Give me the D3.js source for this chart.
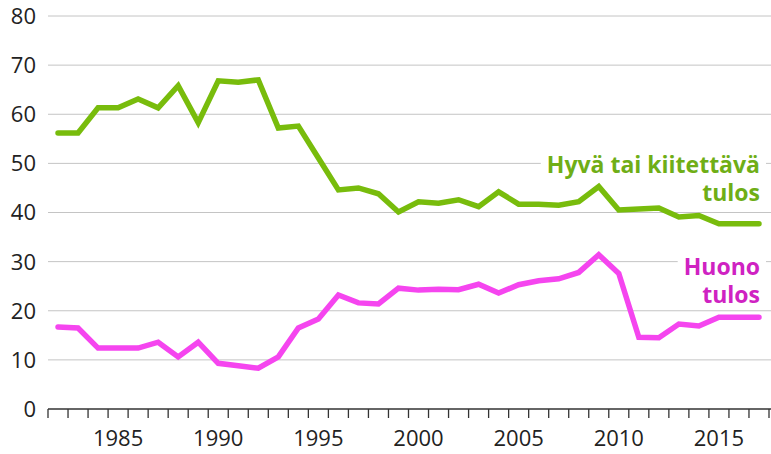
<!DOCTYPE html>
<html>
<head>
<meta charset="utf-8">
<script src="https://cdn.jsdelivr.net/npm/d3@7"></script>
<style>
  body { margin: 0; background: #fff; }
  svg { display: block; }
</style>
</head>
<body>
<svg width="771" height="454"></svg>
<script>
var years = d3.range(1982, 2018);

var hyva = [56.2, 56.2, 61.3, 61.3, 63.1, 61.3, 65.8, 58.3, 66.8, 66.5,
            67.0, 57.2, 57.6, 51.1, 44.6, 45.0, 43.8, 40.1, 42.2, 41.9,
            42.6, 41.2, 44.2, 41.7, 41.7, 41.5, 42.2, 45.3, 40.5, 40.7,
            40.9, 39.1, 39.4, 37.7, 37.7, 37.7];

var huono = [16.7, 16.5, 12.4, 12.4, 12.4, 13.6, 10.6, 13.6, 9.3, 8.8,
             8.3, 10.6, 16.5, 18.3, 23.2, 21.6, 21.4, 24.6, 24.2, 24.4,
             24.3, 25.4, 23.6, 25.3, 26.1, 26.5, 27.8, 31.4, 27.6, 14.6,
             14.5, 17.3, 16.9, 18.7, 18.7, 18.7];

var yTicks = [0, 10, 20, 30, 40, 50, 60, 70, 80];
var xLabels = [1985, 1990, 1995, 2000, 2005, 2010, 2015];

var svg = d3.select('svg'),
    w = +svg.attr('width'),
    mLeft = 48, mRight = 769,
    mTop = 16, mBottom = 409;

var x = d3.scaleBand()
      .domain(years)
      .range([mLeft, mRight]),
    y = d3.scaleLinear()
      .domain([0, 80])
      .range([mBottom, mTop]);

// grid
svg.append('g')
  .selectAll('line')
  .data(yTicks.slice(1))
  .enter()
  .append('line')
  .attr('x1', mLeft)
  .attr('x2', w)
  .attr('y1', function(d){ return y(d); })
  .attr('y2', function(d){ return y(d); })
  .attr('stroke', '#c4c4c4')
  .attr('stroke-width', 1);

// y labels
svg.append('g')
  .selectAll('text')
  .data(yTicks)
  .enter()
  .append('text')
  .attr('x', 36)
  .attr('y', function(d){ return y(d); })
  .attr('dy', '0.36em')
  .attr('text-anchor', 'end')
  .attr('fill', '#222')
  .style('font-family', '"Open Sans", sans-serif')
  .style('font-size', '22px')
  .text(function(d){ return d; });

// x axis: ticks at band edges
var edges = years.map(function(d){ return x(d); }).concat([mRight]);
var ax = svg.append('g');
ax.append('line')
  .attr('x1', mLeft).attr('x2', w)
  .attr('y1', mBottom).attr('y2', mBottom)
  .attr('stroke', '#333').attr('stroke-width', 1.3);
ax.selectAll('line.t')
  .data(edges)
  .enter()
  .append('line')
  .attr('class', 't')
  .attr('x1', function(d){ return d; })
  .attr('x2', function(d){ return d; })
  .attr('y1', mBottom).attr('y2', mBottom + 9)
  .attr('stroke', '#333').attr('stroke-width', 1.3);
ax.selectAll('text')
  .data(xLabels)
  .enter()
  .append('text')
  .attr('x', function(d){ return x(d) + x.bandwidth() / 2; })
  .attr('y', 446)
  .attr('text-anchor', 'middle')
  .attr('fill', '#222')
  .style('font-family', '"Open Sans", sans-serif')
  .style('font-size', '22px')
  .text(function(d){ return d; });

var line = function(vals){
  return d3.line()
    .x(function(d, i){ return x(years[i]) + x.bandwidth() / 2; })
    .y(function(d){ return y(d); })(vals);
};

// series labels, white backing under each line of text
function label(lines, yPos, color){
  var g = svg.append('g');
  lines.forEach(function(s, i){
    var t = g.append('text')
      .attr('x', 760)
      .attr('y', yPos + i * 28)
      .attr('text-anchor', 'end')
      .attr('fill', color)
      .style('font-family', '"Open Sans", sans-serif')
      .style('font-weight', 'bold')
      .style('font-size', '23px')
      .text(s);
    var bb = t.node().getBBox();
    g.insert('rect', 'text')
      .attr('x', bb.x - 6).attr('y', bb.y)
      .attr('width', bb.width + 12).attr('height', bb.height)
      .attr('fill', '#fff');
  });
}

label(['Hyvä tai kiitettävä', 'tulos'], 173, '#6fae16');
label(['Huono', 'tulos'], 275, '#cf22c2');

svg.append('path')
  .attr('d', line(hyva))
  .attr('fill', 'none')
  .attr('stroke', '#78bc0c')
  .attr('stroke-width', 5.5)
  .attr('stroke-linejoin', 'miter')
  .attr('stroke-linecap', 'round');

svg.append('path')
  .attr('d', line(huono))
  .attr('fill', 'none')
  .attr('stroke', '#f545ef')
  .attr('stroke-width', 5.5)
  .attr('stroke-linejoin', 'miter')
  .attr('stroke-linecap', 'round');
</script>
</body>
</html>
